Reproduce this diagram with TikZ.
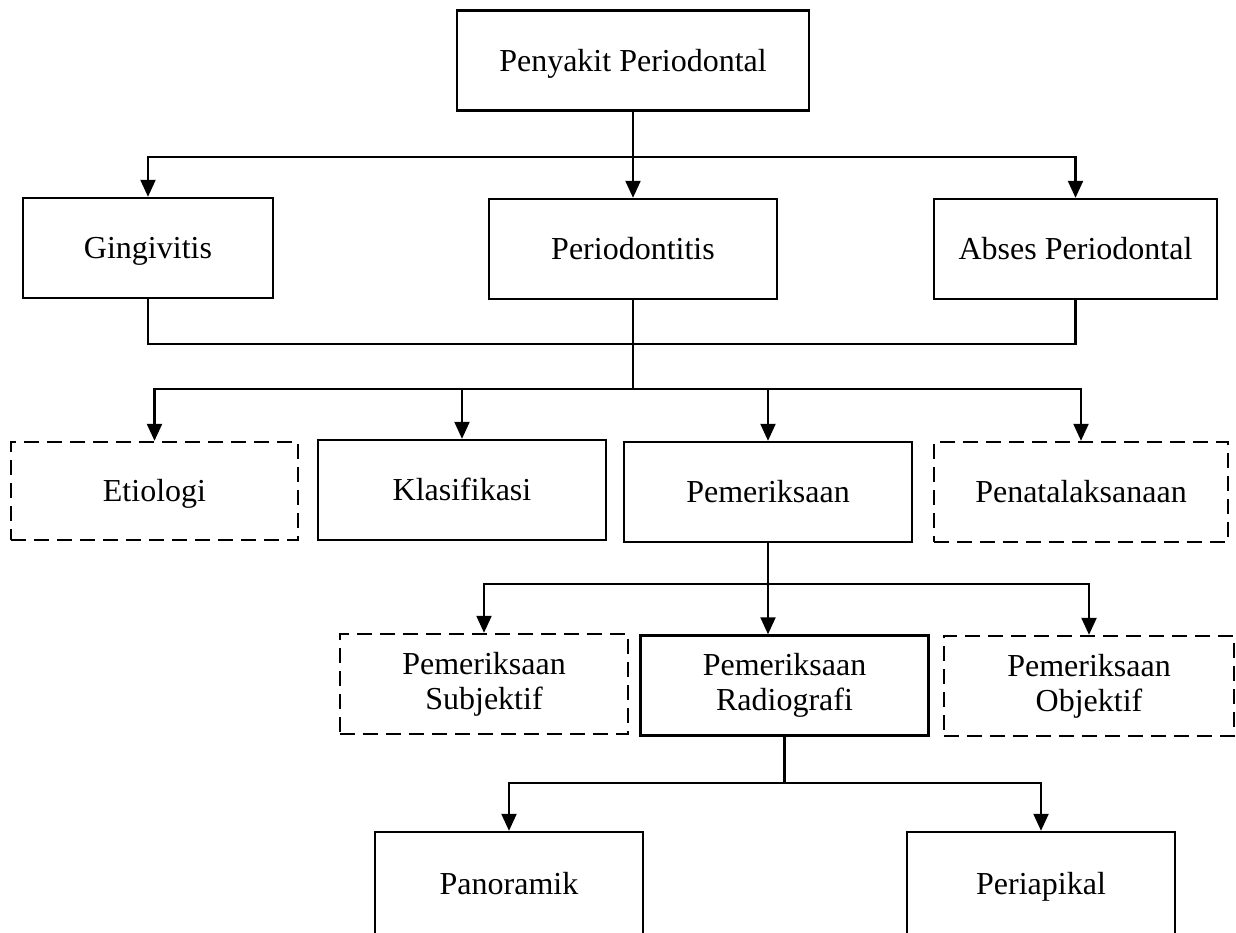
\documentclass[tikz,border=0pt]{standalone}
\usepackage{fontspec}
\setmainfont{Liberation Serif}
\usetikzlibrary{arrows.meta}

\begin{document}
\begin{tikzpicture}[x=0.5pt, y=-0.5pt, >={Triangle[length=8.5pt, width=7.5pt]},
  kotak/.style={draw, line width=1.2pt, minimum width=144pt, minimum height=50pt, inner sep=2pt, align=center, font=\fontsize{16}{17.5}\selectfont},
  box/.style={kotak, text height=13.5pt, text depth=3pt},
  dbox/.style={box, dash pattern=on 7.5pt off 4pt},
  dkotak/.style={kotak, dash pattern=on 7.5pt off 4pt},
  link/.style={line width=1.1pt}]
\useasboundingbox (0,0) rectangle (1236,932);
\clip (0,0) rectangle (1236,932);
% boxes
\node[box, minimum width=176pt] (penyakit) at (633,60.5) {Penyakit Periodontal};
\node[box, minimum width=125pt] (gingiv) at (148,248) {Gingivitis};
\node[box] (periodon) at (633,249) {Periodontitis};
\node[box, minimum width=141.5pt] (abses) at (1075.5,249) {Abses Periodontal};
\node[dbox, minimum width=143.5pt, minimum height=49pt] (etiologi) at (154.5,491) {Etiologi};
\node[box] (klasif) at (462,490) {Klasifikasi};
\node[box] (periksa) at (768,492) {Pemeriksaan};
\node[dbox, minimum width=147pt] (tatalaksana) at (1081,492) {Penatalaksanaan};
\node[dkotak] (subjektif) at (484,684) {Pemeriksaan\\Subjektif};
\node[kotak] (radiografi) at (784.5,685.5) {Pemeriksaan\\Radiografi};
\node[dkotak, minimum width=145pt] (objektif) at (1089,686) {Pemeriksaan\\Objektif};
\node[box, minimum width=134pt, minimum height=52pt] (panoramik) at (509,884) {Panoramik};
\node[box, minimum width=134pt, minimum height=52pt] (periapikal) at (1041,884) {Periapikal};
% connectors
\coordinate (bagi1) at (633,157);
\coordinate (gabung) at (633,344);
\coordinate (bagi2) at (633,389);
\coordinate (bagi3) at (768,584);
\draw[->, link] (penyakit) -- (periodon);
\draw[->, link] (bagi1) -| (gingiv.north);
\draw[->, link] (bagi1) -| (abses.north);
\draw[link] (gingiv.south) |- (gabung) -| (abses.south);
\draw[link] (periodon.south) -- (bagi2);
\draw[->, link] (bagi2) -| (etiologi.north);
\draw[->, link] (bagi2) -| (klasif.north);
\draw[->, link] (bagi2) -| (periksa.north);
\draw[->, link] (bagi2) -| (tatalaksana.north);
\draw[->, link] (periksa.south) -- (periksa.south |- radiografi.north);
\draw[->, link] (bagi3) -| (subjektif.north);
\draw[->, link] (bagi3) -| (objektif.north);
\draw[link] (radiografi.south) -- +(0,46.5) coordinate (bagi4);
\draw[->, link] (bagi4) -| (panoramik.north);
\draw[->, link] (bagi4) -| (periapikal.north);
\end{tikzpicture}
\end{document}
